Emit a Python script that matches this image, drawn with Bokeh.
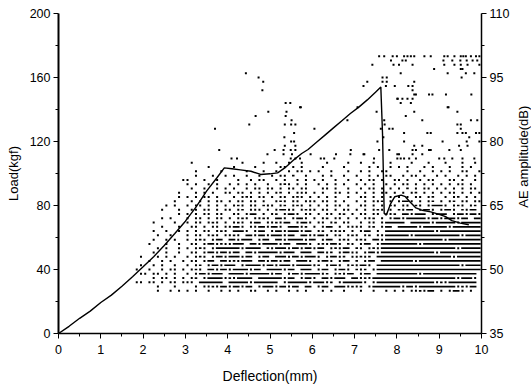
import math
from bokeh.plotting import figure
from bokeh.models import Range1d, LinearAxis, FixedTicker, Label
from bokeh.layouts import row
from bokeh.embed import file_html
from bokeh.resources import INLINE

# ---- load-deflection curve (left axis) ----
DEFL = [0, 0.25, 0.5, 0.75, 1.0, 1.25, 1.5, 1.75, 2.0, 2.25, 2.5, 2.75, 3.0, 3.25,
        3.5, 3.75, 3.92, 4.1, 4.3, 4.55, 4.78, 5.0, 5.18, 5.35, 5.57, 5.75, 5.9,
        6.1, 6.3, 6.5, 6.7, 6.9, 7.1, 7.3, 7.5, 7.62, 7.66, 7.7, 7.75, 7.85, 7.95,
        8.1, 8.2, 8.3, 8.45, 8.6, 8.8, 9.0, 9.15, 9.3, 9.5, 9.7]
LOAD = [0, 4.5, 9.5, 14, 19.4, 24, 29.5, 35.5, 41.7, 48, 55, 62.5, 70.2, 79,
        89, 97.5, 103.5, 103, 102.3, 101.4, 99.4, 99.8, 100.4, 103.5, 108.7, 112.5, 115,
        119.5, 124, 128.5, 133, 137.5, 141.5, 146, 151, 154, 125, 75, 74, 81, 85.5,
        86.5, 85.5, 82.5, 78.5, 77, 76, 74.5, 73, 70.5, 69, 68]

# ---- AE hits (right axis), dense band: one row per dB level,
# 10 chunks of 0.1 mm bins ('.' = single hit, '=' = run of hits)
AE_LEVELS = list(range(75, 44, -1))
AE_ROWS = [
    "||| .|   .    .| .  .  .|   .    .| .  .   .|   .   .| .   .  .",
    "|||     .| .    .|  .. . .|  .    .|   . .  .|. .   . .|  .  . .",
    "|||  .     .|    .   .| .  . .. .| .  .   .| . .  ..|  .  .  .|. .  ..  .",
    "|||  .   .  .| .  .  .|. .. =  .|  . .  .|.  . . ..| . .. .  .| .  . . .",
    "||         .|.   .  .|  .  . ..| . .  . .|. .  .  .| . .. .  .|. .  . ..|  .. .  .",
    "|||. .  . .|. . . .  .|  .=. . .| . . . .|. . .  . .| .. . . .|. . .. .",
    "||| .  .  . .| .  . .. .|. . .. ..|  .. .  .| . .. . .|. = . .. .| . . . ..",
    "||        .|  . . .  .|. .. . . .| .= . ...|. .  .. .|. . . .. .| . .= . .|. .. . . .",
    "||        .|. . .. .| . .=. ..|. .. .=. .| . . .  .| .. . . .|. . .. .=| . .= . .",
    "||       .| . . . ..|. .. .. .| .=. .. ..|. .. . .|. . ..= .|.==. . .=|. .= .. ..",
    "||     . .|. .. . . .| .=. .. =.|. .= .=. .| . . .. .| .. . . =.| .. =. .==|=. .=. .=",
    "||    .   .| .. .. . .|. .= ... .| .==.. .=.|. .. . ..|. . .=. .|=.== .==.|.==. =.==",
    "||        .|. . .. ..| .. .== .|.= .==. ..| . .. .= .| .. .. ..=| ==.=== .=|== .==.==.",
    "||    . .|. .. . ..|. .=. ..=.| ==. .==.|. .= .. .|. ..= . .=|=.=====.==|.===.== ==",
    "||  .    .|. .. .=. .| .=. .== .|.=.== .==.| .. .= ..| . .. .===|== =====.=|====.=====",
    "||    .   .| .. . .. .|.==. ..==.|==. ===.=|. .== . ..|.. .= .==|=====.====|==.=======",
    "||  .  .  .|. . .. .=.| ===. .==|.==.===.==| .= ..=. .| .== . ===|=========.|==========",
    "||   .  .|. .. .=. ..|.=. ==.==.|===.== ==.|.==. .= .=|. .= ..===|===.======|=====.====",
    "||  .  . .|. .=. .==|==.=== .==| ==.====.=|= .== .=.|.=. ==.===|==========|=.========",
    "|| .   .  .| .. .==.=.|.=== ==.==|==.== ===.| .=.==. =.| .== .====|=====.====|==========",
    "||   . .  .|. .=. .===|===.==== =|.===.==.==|.== .=.==|=. .=.====|==========|====.=====",
    "||  .  .  .| .. .==.==|.== ==.===|==.=== ===| ==.= .==.|. .==.====|=========.|==========",
    "|         .|   . . .|. .=. .==.|===.== .==| ===.==.==|=. .==.= .|.=.= =====|==========|===.======",
    "|| .  . .  .| .. .== ==|.=.=== ==.|==.== ===.| .==. .==|= .== ====|====.=====|==========",
    "|         .|  . .  .|. .= .==.=|== .====.=|=.===.====|.= .==. .=|.==. =====|==========|=====.====",
    "|        .| .  . .. .| .=. ==.==|.====.== =|===.== ===| .== .==.|=.= .=====|==========|==========",
    "|         .|. .. . .|. .==.===|====.=====|.== .==.==|==.= .=.==| .== =====|=====.====|=========",
    "||  . .. . .| .= .====.|=.==== ===|===.== .==|. ==.=== =|=.=.======|==========|====.===.",
    "|        ..| .. . .. .|.. ======|=====.====|== .=====.|===.= .===|==. .=====|=========.|=.=======",
    "||   .   .|  . ..=.==|.==.== .==|=.==.== ==| .== ===.=|.= .======|=.==.=====|====.=.==",
    "||   .  . .|. .  .  .|. .  ..  .| .  . . .|  . .  .| .  .  . .| . ..=.==|. .==. .",
]

# ---- isolated high-amplitude AE hits (mm, dB) ----
HIGH_X = [4.43, 4.73, 4.84, 4.82, 4.96, 4.66, 4.51, 3.70, 3.80, 4.09, 4.22, 4.94,
          5.37, 5.48, 5.71, 5.39, 5.37, 5.51, 5.35, 5.50, 5.60, 5.57, 5.34, 5.50,
          5.57, 5.35, 5.60, 5.11, 5.32, 5.49, 5.60, 5.32, 5.52, 5.49, 5.60, 5.71,
          5.73, 6.05, 6.83, 6.56, 6.90, 7.21, 7.42, 7.58, 7.70, 7.66, 7.76, 7.66,
          7.76, 7.30, 7.21, 7.74, 7.95, 8.02, 7.07, 7.52, 7.70, 7.71, 7.62, 7.82,
          7.90, 7.68, 7.54, 7.82, 6.91, 7.58, 5.96, 6.20, 6.28, 6.52, 7.23, 7.46,
          7.86, 7.92,
          7.90, 8.00, 8.17, 8.25, 8.33, 8.41, 8.65, 8.80, 9.12, 9.20, 9.36, 9.51,
          9.57, 9.63, 9.75, 9.87, 9.95,
          8.13, 8.21, 9.10, 9.31, 9.50, 9.65, 9.79, 9.90,
          8.05, 8.37, 9.12, 9.36, 9.51, 9.67, 9.95,
          8.88, 9.51, 9.55, 8.09, 9.20, 9.63, 9.83, 9.53, 8.41, 8.27, 8.37, 8.37,
          8.41, 8.45, 8.76, 8.84, 9.16, 9.76, 8.01, 8.13, 8.25, 8.37, 8.09, 8.33,
          9.20, 9.22, 8.41, 9.43, 8.21, 8.60, 9.75, 9.90, 9.43, 9.51, 9.51,
          8.17, 8.72, 8.80, 9.43, 9.55, 9.63, 9.87, 9.95, 9.71, 8.17, 9.08, 9.65,
          9.95, 8.41, 8.60, 9.47, 9.67, 8.37, 8.45, 8.76, 8.80, 9.24, 9.51,
          8.01, 8.05, 8.37, 8.60, 8.01, 8.09, 8.17, 8.29, 8.45, 9.00, 9.12, 9.31,
          9.55, 9.83]
HIGH_DB = [96, 95, 94, 92, 87, 86, 84, 83, 78, 76, 76, 77,
           89, 89, 88, 87, 86, 85, 84, 84, 84, 82, 81, 80,
           80, 79, 79, 78, 78, 78, 78, 77, 77, 76, 76, 76,
           88, 83, 85, 77, 77, 77, 98, 100, 100, 95, 95, 94,
           94, 94, 93, 93, 93, 90, 88, 87, 85, 84, 83, 83,
           83, 81, 80, 78, 78, 78, 77, 76, 76, 76, 77, 76,
           99, 98,
           100, 100, 100, 100, 100, 100, 100, 100, 100, 100, 100, 100,
           100, 100, 100, 100, 100,
           99, 99, 99, 99, 99, 99, 99, 99,
           98, 98, 98, 98, 98, 98, 98,
           97, 97, 97, 96, 96, 96, 96, 95, 94, 93, 93, 92,
           91, 91, 91, 91, 91, 91, 90, 90, 90, 90, 89, 89,
           88, 88, 87, 87, 86, 85, 85, 85, 84, 84, 83,
           82, 82, 82, 82, 82, 82, 82, 82, 81, 80, 80, 80,
           80, 79, 79, 79, 79, 78, 78, 78, 78, 78, 78,
           77, 77, 77, 77, 76, 76, 76, 76, 76, 76, 76, 76,
           76, 76]

X_TICKS = list(range(0, 11))
X_MINOR = [i + 0.5 for i in range(10)]
LOAD_TICKS = [0, 40, 80, 120, 160, 200]
LOAD_MINOR = [20, 60, 100, 140, 180]
AE_TICKS = [35, 50, 65, 80, 95, 110]
AE_MINOR = [42.5, 57.5, 72.5, 87.5, 102.5]
AE_LABEL = "AE amplitude(dB)"

# ---- expand the AE rows into hits / runs ----
BIN = 0.1
dot_x, dot_y, seg_x0, seg_x1, seg_y = [], [], [], [], []
for lvl, row_s in zip(AE_LEVELS, AE_ROWS):
    s = "".join(c.ljust(10)[:10] for c in row_s.split("|"))
    i = 0
    while i < len(s):
        ch = s[i]
        if ch == ".":
            dot_x.append((i + 0.5) * BIN)
            dot_y.append(lvl)
            i += 1
        elif ch == "=":
            j = i
            while j + 1 < len(s) and s[j + 1] == "=":
                j += 1
            seg_x0.append(i * BIN + 0.02)
            seg_x1.append((j + 1) * BIN - 0.02)
            seg_y.append(lvl)
            i = j + 1
        else:
            i += 1
dot_x += HIGH_X
dot_y += HIGH_DB

FONT = "Liberation Sans"
TOP, FH, BOTTOM = 13, 320, 50
HEIGHT = TOP + FH + BOTTOM

p = figure(frame_width=423, frame_height=FH,
           x_range=Range1d(0, 10), y_range=Range1d(0, 200),
           output_backend="svg", toolbar_location=None,
           min_border_left=58, min_border_right=34, min_border_top=TOP,
           min_border_bottom=BOTTOM)
p.extra_y_ranges = {"ae": Range1d(35, 110)}
p.outline_line_color = None
p.xgrid.grid_line_color = None
p.ygrid.grid_line_color = None
p.background_fill_color = "white"
p.border_fill_color = "white"

p.segment(x0=seg_x0, y0=seg_y, x1=seg_x1, y1=seg_y, line_width=1.7,
          color="black", y_range_name="ae")
p.scatter(dot_x, dot_y, marker="square", size=2, color="black",
          line_width=0, y_range_name="ae")
p.line(DEFL, LOAD, line_width=1.4, color="black")

right = LinearAxis(y_range_name="ae")
p.add_layout(right, "right")


def style(ax, ticks, minor, label):
    ax.ticker = FixedTicker(ticks=ticks, minor_ticks=minor)
    ax.axis_label = label
    ax.axis_line_color = "black"
    ax.axis_line_width = 1.5
    ax.major_tick_line_color = "black"
    ax.minor_tick_line_color = "black"
    ax.major_tick_in = 0
    ax.major_tick_out = 5
    ax.minor_tick_in = 0
    ax.minor_tick_out = 3
    ax.major_label_text_font = FONT
    ax.major_label_text_font_size = "12.5px"
    ax.major_label_text_color = "black"
    ax.major_label_standoff = 3
    ax.axis_label_text_font = FONT
    ax.axis_label_text_font_size = "13px"
    ax.axis_label_text_font_style = "normal"
    ax.axis_label_text_color = "black"
    ax.axis_label_standoff = 6


style(p.xaxis[0], X_TICKS, X_MINOR, "Deflection(mm)")
style(p.yaxis[0], LOAD_TICKS, LOAD_MINOR, "Load(kgf)")
style(right, AE_TICKS, AE_MINOR, None)
p.yaxis[0].axis_line_width = 2
p.xaxis[0].major_label_standoff = 6
p.xaxis[0].axis_label_standoff = 11
p.xaxis[0].axis_label_text_font_size = "14px"

# narrow side panel holding the right-hand title, reading bottom-to-top
side = figure(width=16, height=HEIGHT, x_range=Range1d(0, 1),
              y_range=Range1d(0, HEIGHT), output_backend="svg",
              toolbar_location=None, min_border=0)
side.axis.visible = False
side.grid.visible = False
side.outline_line_color = None
side.background_fill_color = "white"
side.border_fill_color = "white"
side.add_layout(Label(x=0.5, y=HEIGHT - (TOP + FH / 2), text=AE_LABEL,
                      angle=math.pi / 2, text_align="center",
                      text_baseline="middle", text_font=FONT,
                      text_font_size="13px", text_color="black"))

page = row(p, side)
open("out.html", "w").write(file_html(page, INLINE))
